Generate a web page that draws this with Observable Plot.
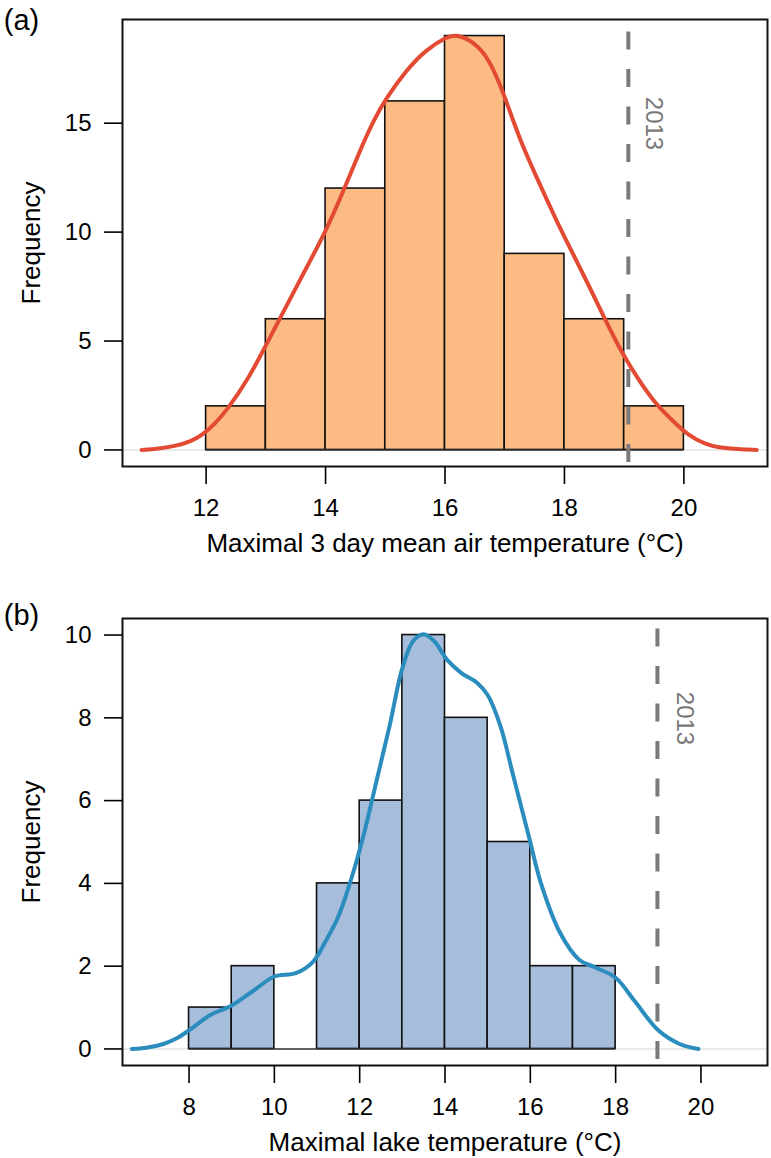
<!DOCTYPE html>
<html>
<head>
<meta charset="utf-8">
<script src="https://cdn.jsdelivr.net/npm/d3@7"></script>
<script src="https://cdn.jsdelivr.net/npm/@observablehq/plot@0.6"></script>
<style>
  html, body { margin: 0; padding: 0; background: #fff; }
  svg { display: block; }
</style>
</head>
<body>
<div id="chart"></div>
<script>
// ---------- Data: panel (a) maximal 3-day mean air temperature ----------
const airBinStart = [12, 13, 14, 15, 16, 17, 18, 19];
const airBinEnd   = [13, 14, 15, 16, 17, 18, 19, 20];
const airCounts   = [2, 6, 12, 16, 19, 9, 6, 2];
const airCurveX = [10.92, 11.2, 11.5, 11.75, 11.92, 12.15, 12.36, 12.69, 13.0, 13.19, 13.58, 14.0, 14.31, 14.58, 14.81, 15.0, 15.36, 15.69, 16.03, 16.17, 16.47, 16.75, 17.0, 17.25, 17.58, 17.86, 18.14, 18.42, 18.69, 18.97, 19.25, 19.53, 19.81, 20.08, 20.36, 20.58, 20.9, 21.22];
const airCurveY = [0.0, 0.06, 0.18, 0.4, 0.65, 1.2, 1.87, 3.18, 4.79, 5.8, 7.85, 10.0, 11.95, 13.78, 15.16, 16.08, 17.47, 18.39, 18.97, 19.08, 18.77, 17.93, 16.24, 14.24, 12.24, 10.55, 9.02, 7.48, 5.94, 4.41, 3.18, 2.1, 1.34, 0.65, 0.26, 0.11, 0.03, 0.0];
const airXTicks = [12, 14, 16, 18, 20];
const airYTicks = [0, 5, 10, 15];
const air2013 = 19.07;

// ---------- Data: panel (b) maximal lake temperature ----------
const lakeBinStart = [8, 9, 10, 11, 12, 13, 14, 15, 16, 17];
const lakeBinEnd   = [9, 10, 11, 12, 13, 14, 15, 16, 17, 18];
const lakeCounts   = [1, 2, 0, 4, 6, 10, 8, 5, 2, 2];
const lakeCurveX = [6.66, 7.0, 7.4, 7.7, 8.0, 8.5, 9.0, 9.5, 10.0, 10.5, 10.9, 11.2, 11.5, 11.8, 12.1, 12.4, 12.7, 13.0, 13.25, 13.5, 13.75, 14.05, 14.4, 14.75, 15.0, 15.3, 15.6, 15.95, 16.25, 16.7, 17.15, 17.5, 18.0, 18.45, 19.0, 19.5, 19.94];
const lakeCurveY = [0.0, 0.03, 0.12, 0.25, 0.45, 0.82, 1.05, 1.4, 1.75, 1.83, 2.1, 2.6, 3.2, 4.1, 5.2, 6.5, 7.8, 9.2, 9.85, 10.02, 9.85, 9.4, 9.07, 8.85, 8.55, 7.8, 6.6, 5.2, 4.0, 2.8, 2.15, 1.98, 1.72, 1.15, 0.45, 0.12, 0.0];
const lakeXTicks = [8, 10, 12, 14, 16, 18, 20];
const lakeYTicks = [0, 2, 4, 6, 8, 10];
const lake2013 = 18.98;

const yearLabel = "2013";
const yLabel = "Frequency";

const FONT = "'Liberation Sans', Arial, Helvetica, sans-serif";

function panel({tag, binStart, binEnd, counts, curveX, curveY, xTicks, yTicks, line2013,
                xDomain, yDomain, marginTop, marginBottom, barFill, curveColor, curveType, xTitle,
                labelDx, labelDy, dashOffset, tagDy}) {
  const bins = binStart.map((s, i) => ({x1: s, x2: binEnd[i], n: counts[i]}));
  const curve = curveX.map((x, i) => ({x, y: curveY[i]}));
  return Plot.plot({
    width: 771,
    height: 579,
    marginTop,
    marginBottom,
    marginLeft: 122,
    marginRight: 4,
    style: {fontFamily: FONT, fontSize: "24px", color: "#000", background: "#fff", overflow: "visible"},
    x: {domain: xDomain},
    y: {domain: yDomain},
    marks: [
      Plot.ruleY([0], {stroke: "#e3e3e3", strokeWidth: 1.5}),
      Plot.rectY(bins, {x1: "x1", x2: "x2", y1: 0, y2: "n", fill: barFill, stroke: "#111", strokeWidth: 1.6}),
      Plot.ruleY(bins, {x1: "x1", x2: "x2", y: 0, stroke: "#333", strokeWidth: 1.6}),
      Plot.ruleX([line2013], {stroke: "#7a7a7a", strokeWidth: 4, strokeDasharray: "18,19.5", strokeDashoffset: dashOffset}),
      Plot.line(curve, {x: "x", y: "y", stroke: curveColor, strokeWidth: 4, curve: curveType, strokeLinecap: "round"}),
      Plot.text([yearLabel], {x: [line2013], frameAnchor: "top", textAnchor: "middle", lineAnchor: "middle",
        dx: labelDx, dy: labelDy, rotate: 90, fill: "#777", fontSize: 24, text: d => d}),
      Plot.frame({stroke: "#111", strokeWidth: 2}),
      Plot.axisX({ticks: xTicks, tickSize: 18, tickPadding: 14, strokeWidth: 1.6, fontSize: 24, label: null, tickFormat: d => String(d)}),
      Plot.axisY({ticks: yTicks, tickSize: 18, tickPadding: 13, strokeWidth: 1.6, fontSize: 24, label: null, tickFormat: d => String(d)}),
      Plot.text([xTitle], {frameAnchor: "bottom", textAnchor: "middle", lineAnchor: "middle", dy: 77, fontSize: 26, text: d => d}),
      Plot.text([yLabel], {frameAnchor: "left", textAnchor: "middle", lineAnchor: "middle", dx: -91, rotate: -90, fontSize: 26, text: d => d}),
      Plot.text([tag], {frameAnchor: "top-left", textAnchor: "middle", lineAnchor: "middle", dx: -101, dy: tagDy, fontSize: 29, text: d => d})
    ]
  });
}

const chart = document.getElementById("chart");
chart.appendChild(panel({
  tag: "(a)", binStart: airBinStart, binEnd: airBinEnd, counts: airCounts,
  curveX: airCurveX, curveY: airCurveY, xTicks: airXTicks, yTicks: airYTicks,
  line2013: air2013, xDomain: [10.6, 21.4], yDomain: [-0.76, 19.76],
  marginTop: 19, marginBottom: 113, barFill: "#fdbb84", curveColor: "#e34a33", curveType: "basis",
  xTitle: "Maximal 3 day mean air temperature (°C)", labelDx: 25, labelDy: 104, dashOffset: 25, tagDy: 1
}));
chart.appendChild(panel({
  tag: "(b)", binStart: lakeBinStart, binEnd: lakeBinEnd, counts: lakeCounts,
  curveX: lakeCurveX, curveY: lakeCurveY, xTicks: lakeXTicks, yTicks: lakeYTicks,
  line2013: lake2013, xDomain: [6.44, 21.56], yDomain: [-0.4, 10.4],
  marginTop: 39, marginBottom: 93, barFill: "#a6bddb", curveColor: "#2b8cbe", curveType: "catmull-rom",
  xTitle: "Maximal lake temperature (°C)", labelDx: 27, labelDy: 100, dashOffset: 27, tagDy: -3
}));
</script>
</body>
</html>
